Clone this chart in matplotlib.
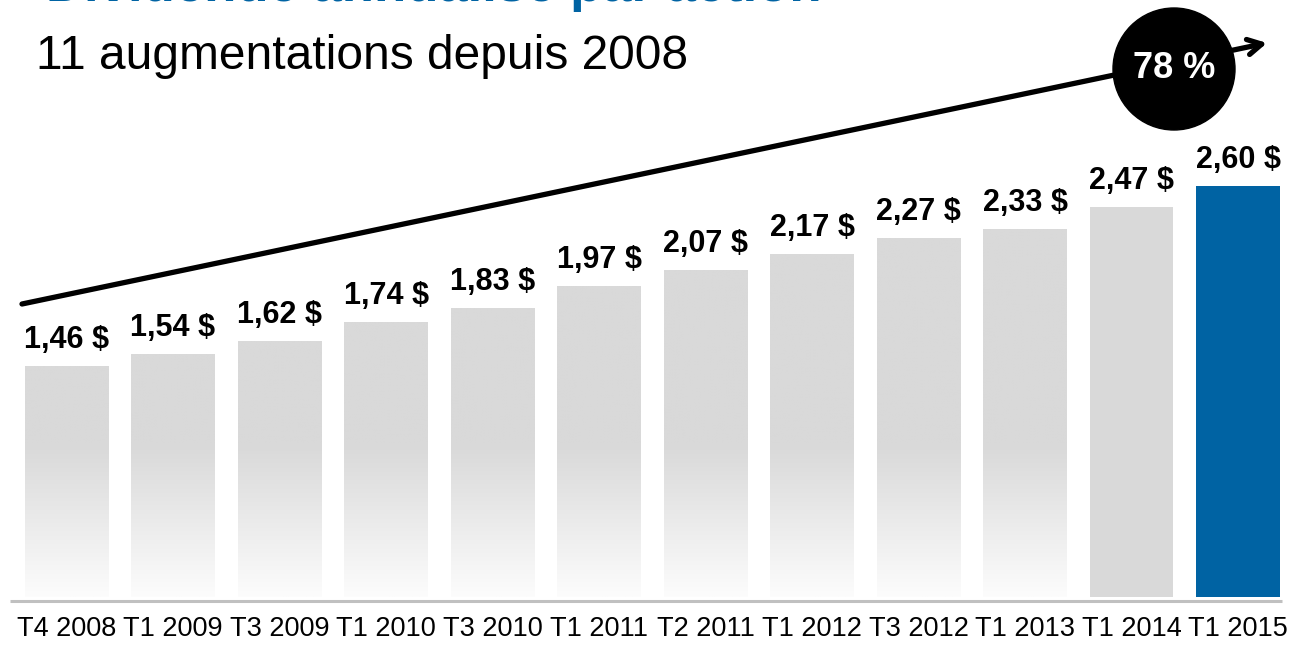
import numpy as np
import matplotlib.pyplot as plt
from matplotlib.patches import Circle
from matplotlib.colors import to_rgb

plt.rcParams['font.family'] = ['Liberation Sans', 'DejaVu Sans']

# Annualised dividend per share ($)
periods = ["T4 2008", "T1 2009", "T3 2009", "T1 2010", "T3 2010", "T1 2011",
           "T2 2011", "T1 2012", "T3 2012", "T1 2013", "T1 2014", "T1 2015"]
dividends = [1.46, 1.54, 1.62, 1.74, 1.83, 1.97, 2.07, 2.17, 2.27, 2.33, 2.47, 2.60]
labels = ["1,46 $", "1,54 $", "1,62 $", "1,74 $", "1,83 $", "1,97 $",
          "2,07 $", "2,17 $", "2,27 $", "2,33 $", "2,47 $", "2,60 $"]
growth = "78 %"

GRAY = "#d9d9d9"
BLUE = "#0063a3"

W, H = 1296, 646
fig = plt.figure(figsize=(W / 100, H / 100), dpi=100)

# main axes: value 0 at pixel row 597, ~158 px per dollar
px_per_unit = 158
bottom_px = 597
ax = fig.add_axes([13.25 / W, (H - bottom_px) / H, 1278 / W, bottom_px / H])
ymax = bottom_px / px_per_unit

x = np.arange(len(dividends))
colors = [GRAY] * (len(dividends) - 1) + [BLUE]
bars = ax.bar(x, dividends, width=0.78, color=colors, zorder=2)

# faded bars (all but the last two): solid gray on top, fading to white at the base
n = 200
yy = np.linspace(0, ymax, n)
t = np.clip(yy / 0.95, 0, 1)
c0 = np.array(to_rgb("#fcfcfc"))
c1 = np.array(to_rgb(GRAY))
grad = (c0[None, :] * (1 - t[:, None]) + c1[None, :] * t[:, None])[:, None, :]
for b in bars[:-2]:
    b.set_facecolor("none")
    im = ax.imshow(grad, extent=(b.get_x(), b.get_x() + b.get_width(), 0, ymax),
                   origin="lower", aspect="auto", zorder=1)
    im.set_clip_path(b)

for i, (v, lab) in enumerate(zip(dividends, labels)):
    ax.annotate(lab, xy=(i, v), xytext=(0, 8), textcoords="offset points",
                ha="center", va="bottom", fontsize=22, fontweight="bold")

ax.set_xlim(-0.5, len(dividends) - 0.5)
ax.set_ylim(0, ymax)
ax.set_xticks(x)
ax.set_xticklabels(periods, fontsize=19.5)
ax.tick_params(axis="x", length=0, pad=14)
ax.set_yticks([])
for s in ax.spines.values():
    s.set_visible(False)
ax.patch.set_visible(False)

# overlay in pixel coordinates for the decorations
ov = fig.add_axes([0, 0, 1, 1])
ov.set_xlim(0, W)
ov.set_ylim(H, 0)
ov.axis("off")
ov.patch.set_visible(False)

ov.plot([10, 1282], [601, 601], color="#c0c0c0", lw=2.2, solid_capstyle="butt")

# title sits mostly above the top edge, as in the source slide
ov.text(46, 1.5, "Dividende annualisé par action", fontsize=38, fontweight="bold",
        color=BLUE, ha="left", va="baseline")
ov.text(36, 69, "11 augmentations depuis 2008", fontsize=34.5, ha="left", va="baseline")

ov.annotate("", xy=(1267, 43), xytext=(22, 304),
            arrowprops=dict(arrowstyle="->,head_length=1.0,head_width=0.55",
                            lw=3.8, color="black", shrinkA=0, shrinkB=0))
ov.add_patch(Circle((1174, 69), 61, color="black", zorder=5))
ov.text(1174, 69, growth, color="white", fontsize=26, fontweight="bold",
        ha="center", va="center", zorder=6)

fig.savefig("out.png", dpi=100)
